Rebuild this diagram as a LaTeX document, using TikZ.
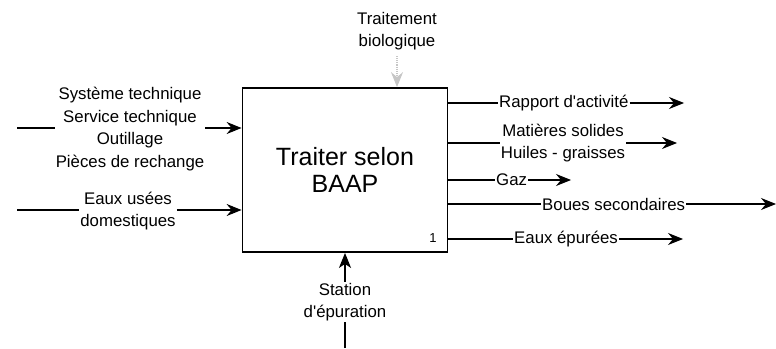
\documentclass[tikz,border=0pt]{standalone}
\usepackage{fontspec}
\setmainfont{Liberation Sans}
\usetikzlibrary{arrows.meta}

\begin{document}
\begin{tikzpicture}[x=1pt,y=-1pt,
    lbl/.style={inner sep=1pt,align=center,font=\fontsize{16.8}{22.5}\selectfont},
    flow/.style={line width=1.1pt},
    arr/.style={line width=1.1pt,-{Stealth[length=15pt,width=12pt,inset=5pt]}}]
        \useasboundingbox (0,0) rectangle (776,348);
        % activity box
        \draw (345,170) node[draw,line width=1.8pt,minimum width=205pt,minimum height=164pt,
            align=center,font=\fontsize{25}{27}\selectfont] (F) {Traiter selon\\BAAP};
        \draw (433,238) node[font=\fontsize{13}{15}\selectfont] (N) {1};
        % inputs
        \coordinate (in1) at (17,128);
        \coordinate (in2) at (17,210);
        \draw (130,129) node[lbl] (I1) {Système technique\\Service technique\\Outillage\\Pièces de rechange};
        \draw (128,211) node[lbl] (I2) {Eaux usées\\domestiques};
        \draw[flow] (in1)--(in1 -| I1.west);
        \draw[arr] (in1 -| I1.east)--(in1 -| F.west);
        \draw[flow] (in2)--(in2 -| I2.west);
        \draw[arr] (in2 -| I2.east)--(in2 -| F.west);
        % control
        \draw (397,31) node[lbl] (C) {Traitement\\biologique};
        \coordinate (c0) at (397,56);
        \draw[arr,gray!45,densely dotted] (c0)--(c0 |- F.north);
        % mechanism
        \draw (345,302) node[lbl] (M) {Station\\d\textquotesingle épuration};
        \coordinate (m0) at (345,348);
        \draw[line width=2pt] (m0)--(M.south);
        \draw[line width=2pt,-{Stealth[length=15pt,width=12pt,inset=4pt]}] (M.north)--(M.north |- F.south);
        % outputs
        \coordinate (o1) at (448,103);
        \coordinate (o2) at (448,143);
        \coordinate (o3) at (448,180);
        \coordinate (o4) at (448,204);
        \coordinate (o5) at (448,239);
        \draw (498,103) node[lbl,anchor=west] (R) {Rapport d\textquotesingle activité};
        \draw (563,143) node[lbl] (S) {Matières solides\\Huiles - graisses};
        \draw (495,180) node[lbl,anchor=west] (G) {Gaz};
        \draw (541,204) node[lbl,anchor=west] (B) {Boues secondaires};
        \draw (513,239) node[lbl,anchor=west] (E) {Eaux épurées};
        \draw[flow] (o1)--(R.west);
        \draw[arr] (R.east)--(684,103);
        \draw[flow] (o2)--(o2 -| S.west);
        \draw[arr] (o2 -| S.east)--(677,143);
        \draw[flow] (o3)--(G.west);
        \draw[arr] (G.east)--(571,180);
        \draw[flow] (o4)--(B.west);
        \draw[arr] (B.east)--(776,204);
        \draw[flow] (o5)--(E.west);
        \draw[arr] (E.east)--(683,239);
\end{tikzpicture}
\end{document}
